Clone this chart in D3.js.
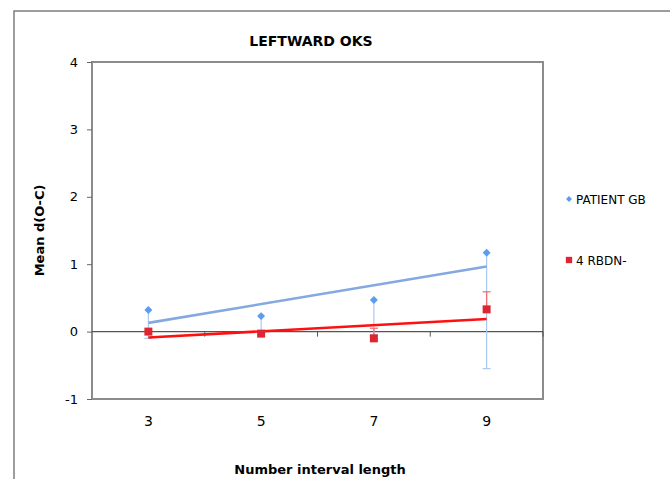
<!DOCTYPE html>
<html>
<head>
<meta charset="utf-8">
<script src="https://cdn.jsdelivr.net/npm/d3@7"></script>
<style>
  body { margin: 0; background: #fff; }
  text { font-family: "DejaVu Sans", Verdana, sans-serif; }
</style>
</head>
<body>
<div id="chart"></div>
<script>
var w = 670,
	h = 479;

// data
var categories = ["3", "5", "7", "9"];
var seriesNames = ["PATIENT GB", "4 RBDN-"];
var patientGB = [0.32, 0.23, 0.47, 1.17];
var rbdn = [0.0, -0.03, -0.1, 0.33];
// error bars: patient GB minus only, RBDN plus only
var patientErrMinus = [0.42, 0.23, 0.52, 1.72];
var rbdnErrPlus = [0, 0, 0.15, 0.26];
var yTicks = [-1, 0, 1, 2, 3, 4];

var plot = {left: 92, top: 62, right: 543, bottom: 399};

var svg = d3.select("#chart").append("svg")
	.attr("width", w)
	.attr("height", h);

// outer chart frame (runs off the right and bottom)
svg.append("rect")
	.attr("x", 14).attr("y", 11)
	.attr("width", 700).attr("height", 500)
	.attr("fill", "none")
	.attr("stroke", "#858585")
	.attr("stroke-width", 1.6);

var x = d3.scaleBand().domain(categories).range([plot.left, plot.right]);
var y = d3.scaleLinear().domain([-1, 4]).range([plot.bottom, plot.top]);
var cx = function(i){ return x(categories[i]) + x.bandwidth() / 2; };

// plot area border
svg.append("rect")
	.attr("x", plot.left).attr("y", plot.top)
	.attr("width", plot.right - plot.left).attr("height", plot.bottom - plot.top)
	.attr("fill", "none")
	.attr("stroke", "#8c8c8c")
	.attr("stroke-width", 2);

// y axis (plain hyphen for negatives, like the original)
var yAxis = svg.append("g")
	.attr("transform", "translate(" + plot.left + ",0)")
	.call(d3.axisLeft(y).tickValues(yTicks).tickSize(5).tickPadding(9).tickFormat(function(d){ return String(d); }));
yAxis.select(".domain").remove();
yAxis.selectAll("line").attr("stroke", "#666");
yAxis.selectAll("text").attr("font-size", "13px").attr("fill", "#000")
	.style("font-family", "DejaVu Sans, Verdana, sans-serif");

// x axis line at zero with ticks between categories
var xAxis = svg.append("g")
	.attr("transform", "translate(0," + y(0) + ")");
xAxis.append("line")
	.attr("x1", plot.left).attr("x2", plot.right)
	.attr("stroke", "#555").attr("stroke-width", 1.2);
xAxis.selectAll("line.tk")
	.data(categories.slice(1).concat(["end"]))
	.enter().append("line")
	.attr("class", "tk")
	.attr("x1", function(d, i){ return plot.left + x.step() * (i + 1); })
	.attr("x2", function(d, i){ return plot.left + x.step() * (i + 1); })
	.attr("y1", 0).attr("y2", 5)
	.attr("stroke", "#555");

// x tick labels sit below the plot
svg.selectAll("text.xl")
	.data(categories)
	.enter().append("text")
	.attr("class", "xl")
	.attr("x", function(d, i){ return cx(i); })
	.attr("y", plot.bottom + 27)
	.attr("text-anchor", "middle")
	.attr("font-size", "14px")
	.text(function(d){ return d; });

// linear trend lines (least squares on category index, as the spreadsheet does)
function trend(vals){
	var n = vals.length, mx = (n + 1) / 2, my = d3.mean(vals);
	var s = d3.sum(vals, function(v, i){ return (i + 1 - mx) * (v - my); }) /
		d3.sum(vals, function(v, i){ return (i + 1 - mx) * (i + 1 - mx); });
	return [0, n - 1].map(function(i){ return [cx(i), y(my + s * (i + 1 - mx))]; });
}
var line = d3.line();

// error bars
function errBars(vals, errs, dir, color){
	var g = svg.append("g");
	vals.forEach(function(v, i){
		if (!errs[i]) return;
		var end = v + dir * errs[i];
		g.append("line")
			.attr("x1", cx(i)).attr("x2", cx(i))
			.attr("y1", y(v)).attr("y2", y(end))
			.attr("stroke", color).attr("stroke-width", 1.2);
		g.append("line")
			.attr("x1", cx(i) - 4).attr("x2", cx(i) + 4)
			.attr("y1", y(end)).attr("y2", y(end))
			.attr("stroke", color).attr("stroke-width", 1.2);
	});
}
errBars(patientGB, patientErrMinus, -1, "#a9c8f2");
errBars(rbdn, rbdnErrPlus, 1, "#f06a6a");

svg.append("path")
	.attr("d", line(trend(patientGB)))
	.attr("stroke", "#84a9e0").attr("stroke-width", 2.6).attr("fill", "none");
svg.append("path")
	.attr("d", line(trend(rbdn)))
	.attr("stroke", "#ff1010").attr("stroke-width", 2.6).attr("fill", "none");

// markers
var diamond = d3.symbol().type(d3.symbolDiamond2).size(40);
var square = d3.symbol().type(d3.symbolSquare).size(64);
svg.selectAll("path.gb")
	.data(patientGB)
	.enter().append("path")
	.attr("class", "gb")
	.attr("d", diamond)
	.attr("transform", function(d, i){ return "translate(" + cx(i) + "," + y(d) + ")"; })
	.attr("fill", "#5a9cf2");
svg.selectAll("path.rb")
	.data(rbdn)
	.enter().append("path")
	.attr("class", "rb")
	.attr("d", square)
	.attr("transform", function(d, i){ return "translate(" + cx(i) + "," + y(d) + ")"; })
	.attr("fill", "#dc2632");

// titles
svg.append("text")
	.attr("x", 311).attr("y", 46)
	.attr("text-anchor", "middle")
	.attr("font-size", "14px").attr("font-weight", "bold")
	.text("LEFTWARD OKS");
svg.append("text")
	.attr("transform", "translate(44," + ((plot.top + plot.bottom) / 2) + ") rotate(-90)")
	.attr("text-anchor", "middle")
	.attr("font-size", "13px").attr("font-weight", "bold")
	.text("Mean d(O-C)");
svg.append("text")
	.attr("x", 320).attr("y", 474)
	.attr("text-anchor", "middle")
	.attr("font-size", "13px").attr("font-weight", "bold")
	.text("Number interval length");

// legend
var legend = svg.append("g").attr("transform", "translate(569,199)");
legend.append("path")
	.attr("d", d3.symbol().type(d3.symbolDiamond2).size(22))
	.attr("fill", "#5a9cf2");
legend.append("path")
	.attr("d", d3.symbol().type(d3.symbolSquare).size(40))
	.attr("transform", "translate(0,61)")
	.attr("fill", "#dc2632");
legend.selectAll("text")
	.data(seriesNames)
	.enter().append("text")
	.attr("x", 7)
	.attr("y", function(d, i){ return i * 61 + 4.5; })
	.attr("font-size", "12px")
	.attr("fill", "#000")
	.text(function(d){ return d; });
</script>
</body>
</html>
